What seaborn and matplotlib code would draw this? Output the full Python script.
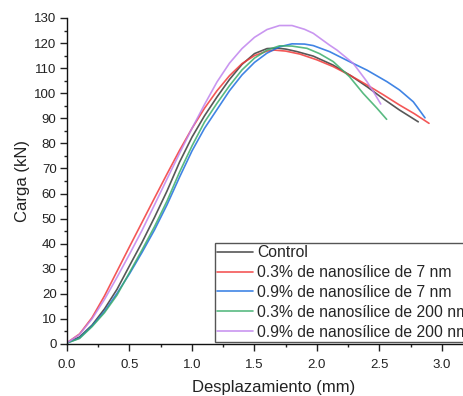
import matplotlib
matplotlib.use("Agg")
import matplotlib.pyplot as plt
import seaborn as sns
import pandas as pd
from matplotlib.ticker import MultipleLocator

# ---- data ----
series_names = [
    "Control",
    "0.3% de nanosílice de 7 nm",
    "0.9% de nanosílice de 7 nm",
    "0.3% de nanosílice de 200 nm",
    "0.9% de nanosílice de 200 nm",
]

control_x = [0, 0.1, 0.2, 0.3, 0.4, 0.5, 0.6, 0.7, 0.8, 0.9, 1.0, 1.1, 1.2, 1.3, 1.4, 1.5, 1.6, 1.68, 1.75, 1.84, 1.97, 2.13, 2.27, 2.4, 2.53, 2.66, 2.74, 2.81]
control_y = [0.5, 2.8, 7.5, 14.0, 21.8, 31.2, 40.5, 50.5, 61.0, 72.5, 82.5, 91.0, 98.5, 105.5, 111.5, 115.8, 117.8, 118.0, 117.6, 116.6, 114.8, 111.2, 107.0, 102.6, 97.8, 93.3, 90.8, 88.6]

red_x = [0, 0.1, 0.2, 0.3, 0.4, 0.5, 0.6, 0.7, 0.8, 0.9, 1.0, 1.1, 1.2, 1.3, 1.4, 1.5, 1.6, 1.66, 1.75, 1.864, 2.0, 2.13, 2.27, 2.4, 2.53, 2.66, 2.78, 2.896]
red_y = [0.5, 4.0, 10.5, 19.2, 29.0, 38.8, 48.5, 58.2, 67.8, 77.2, 86.0, 94.0, 101.0, 107.0, 111.8, 115.0, 116.8, 117.2, 116.8, 115.6, 113.3, 110.6, 107.0, 103.3, 99.4, 95.3, 91.8, 88.0]

blue_x = [0, 0.1, 0.2, 0.3, 0.4, 0.5, 0.6, 0.7, 0.8, 0.9, 1.0, 1.1, 1.2, 1.3, 1.4, 1.5, 1.6, 1.7, 1.8, 1.9, 1.97, 2.10, 2.26, 2.4, 2.56, 2.66, 2.77, 2.80, 2.864]
blue_y = [0.4, 2.4, 7.2, 13.0, 20.2, 28.0, 36.5, 45.5, 55.5, 66.5, 77.0, 86.0, 93.5, 101.0, 107.3, 112.3, 116.0, 118.5, 119.7, 119.6, 119.0, 116.6, 112.6, 109.2, 104.6, 101.3, 96.6, 94.6, 90.2]

green_x = [0, 0.1, 0.2, 0.3, 0.4, 0.5, 0.6, 0.7, 0.8, 0.9, 1.0, 1.1, 1.2, 1.3, 1.4, 1.5, 1.6, 1.7, 1.8, 1.92, 2.02, 2.13, 2.26, 2.37, 2.48, 2.557]
green_y = [0.4, 2.2, 6.9, 12.5, 19.5, 28.5, 37.5, 46.8, 57.0, 68.5, 79.0, 88.5, 96.0, 103.0, 109.3, 114.0, 117.2, 118.9, 118.8, 117.9, 115.8, 112.6, 106.6, 99.9, 94.0, 89.6]

purple_x = [0, 0.1, 0.2, 0.3, 0.4, 0.5, 0.6, 0.7, 0.8, 0.9, 1.0, 1.1, 1.2, 1.3, 1.4, 1.5, 1.6, 1.7, 1.8, 1.9, 1.97, 2.10, 2.16, 2.29, 2.40, 2.46, 2.51]
purple_y = [0.5, 3.8, 10.0, 17.8, 26.6, 35.8, 45.3, 55.5, 65.8, 76.0, 86.0, 95.5, 104.5, 112.0, 117.8, 122.3, 125.4, 127.0, 127.0, 125.5, 123.9, 119.2, 117.2, 111.9, 104.6, 99.9, 95.7]

colors = ["#3a3a3a", "#f23a3a", "#1f6fe0", "#3cae6c", "#c084ee"]

x_ticks = [0.0, 0.5, 1.0, 1.5, 2.0, 2.5, 3.0]
y_ticks = list(range(0, 131, 10))

# ---- build long-form table ----
all_x = [control_x, red_x, blue_x, green_x, purple_x]
all_y = [control_y, red_y, blue_y, green_y, purple_y]
rows = []
for name, xs, ys in zip(series_names, all_x, all_y):
    for i, (xv, yv) in enumerate(zip(xs, ys)):
        rows.append({"serie": name, "idx": i, "x": xv, "y": yv})
df = pd.DataFrame(rows)

sns.set_style("ticks")
plt.rcParams["font.family"] = ["Liberation Sans", "DejaVu Sans"]
plt.rcParams["axes.linewidth"] = 1.0

fig = plt.figure(figsize=(4.64, 3.96), dpi=100)
ax = fig.add_axes([67 / 464, 52 / 396, 412.5 / 464, 326 / 396])

sns.lineplot(data=df, x="x", y="y", hue="serie", hue_order=series_names,
             palette=colors, sort=False, estimator=None, units="serie",
             linewidth=1.2, alpha=0.85, ax=ax)

ax.set_xlim(0, 3.3)
ax.set_ylim(0, 130)
ax.set_xticks(x_ticks)
ax.set_xticklabels([f"{t:.1f}" for t in x_ticks])
ax.set_yticks(y_ticks)
ax.xaxis.set_minor_locator(MultipleLocator(0.25))
ax.yaxis.set_minor_locator(MultipleLocator(5))
ax.tick_params(which="major", direction="out", length=5, width=1.0,
               labelsize=9.5, colors="#222222", pad=2.5)
ax.tick_params(axis="x", which="major", pad=6)
ax.tick_params(which="minor", direction="out", length=2.5, width=1.0, colors="#222222")
sns.despine(ax=ax)
ax.spines["left"].set_color("#111111")
ax.spines["bottom"].set_color("#111111")

ax.set_xlabel("Desplazamiento (mm)", fontsize=12, color="#222222", labelpad=6)
ax.set_ylabel("Carga (kN)", fontsize=12, color="#222222", labelpad=3)

leg = ax.legend(loc="lower left", bbox_to_anchor=(148 / 412.5, 0.006),
                borderaxespad=0, fontsize=11.3, frameon=True, fancybox=False,
                edgecolor="#555555", framealpha=1, handlelength=2.3,
                handletextpad=0.25, labelspacing=0.31, borderpad=0.15)
leg.get_frame().set_linewidth(1.0)
for line in leg.get_lines():
    line.set_linewidth(1.2)

fig.savefig("out.png", dpi=100)
